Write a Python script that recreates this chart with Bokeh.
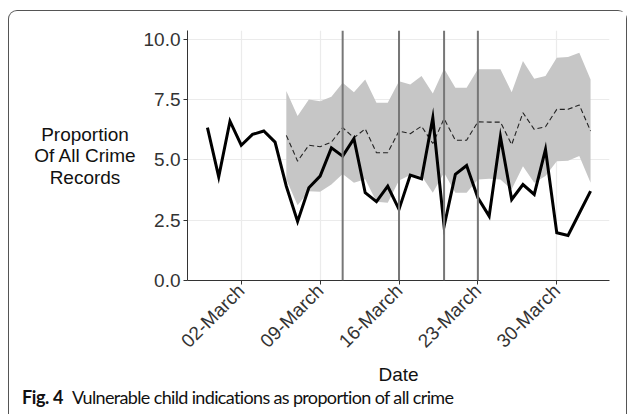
import pandas as pd
from bokeh.plotting import figure
from bokeh.models import (Range1d, FixedTicker, DatetimeTickFormatter, PrintfTickFormatter,
                          Span, ColumnDataSource, Div)
from bokeh.layouts import column, row
from bokeh.embed import file_html
from bokeh.resources import INLINE
import math

# ---------------- data ----------------
start_date = "2020-02-28"
observed = [6.34, 4.30, 6.61, 5.61, 6.06, 6.20, 5.74, 3.91, 2.45, 3.85, 4.33, 5.50,
            5.16, 5.88, 3.64, 3.27, 3.91, 2.95, 4.37, 4.22, 6.75, 2.25, 4.40, 4.77,
            3.43, 2.67, 5.96, 3.36, 3.98, 3.57, 5.44, 1.98, 1.87, 2.79, 3.71]
forecast_start = "2020-03-06"
forecast = [6.02, 4.95, 5.61, 5.55, 5.74, 6.34, 5.92, 6.29, 5.30, 5.30, 6.20, 6.09,
            6.40, 5.68, 6.71, 5.82, 5.82, 6.58, 6.57, 6.57, 5.64, 6.96, 6.27, 6.38,
            7.10, 7.10, 7.28, 6.20]
upper = [7.86, 6.82, 7.51, 7.44, 7.62, 8.20, 7.81, 8.34, 7.37, 7.37, 8.27, 8.13,
         8.48, 7.76, 8.78, 8.00, 8.00, 8.76, 8.76, 8.76, 7.81, 9.10, 8.37, 8.48,
         9.24, 9.27, 9.45, 8.34]
lower = [4.19, 3.12, 3.70, 3.68, 3.98, 4.42, 4.05, 4.20, 3.27, 3.22, 4.15, 4.38,
         4.33, 3.64, 4.47, 3.64, 3.64, 4.19, 4.22, 4.19, 3.78, 4.74, 4.05, 4.33,
         4.95, 4.97, 5.16, 4.05]
event_dates = ["2020-03-11", "2020-03-16", "2020-03-20", "2020-03-23"]
tick_dates = ["2020-03-02", "2020-03-09", "2020-03-16", "2020-03-23", "2020-03-30"]
y_ticks = [0.0, 2.5, 5.0, 7.5, 10.0]
y_title = ["Proportion", "Of All Crime", "Records"]
x_title = "Date"
caption_bold = "Fig. 4"
caption_text = "Vulnerable child indications as proportion of all crime"

# ---------------- build ----------------
obs_x = pd.date_range(start_date, periods=len(observed), freq="D")
fc_x = pd.date_range(forecast_start, periods=len(forecast), freq="D")
obs_src = ColumnDataSource(dict(x=obs_x, y=observed))
fc_src = ColumnDataSource(dict(x=fc_x, y=forecast, lo=lower, hi=upper))

DAY = 86400000.0
def ms(d):
    return pd.Timestamp(d).value / 1e6

x0 = ms(tick_dates[0]) - 4.77 * DAY
x1 = ms(tick_dates[-1]) + 4.68 * DAY

CW = 617          # content width inside the border
YW = 131          # width of the y-title column
W, H = CW - YW, 381
p = figure(width=W, height=H, output_backend="svg", toolbar_location=None,
           x_axis_type="datetime", x_range=Range1d(x0, x1), y_range=Range1d(0, 10.37),
           min_border_left=45, min_border_right=17, min_border_top=19,
           min_border_bottom=H - 19 - 250)
p.outline_line_color = None
p.background_fill_color = "white"
p.border_fill_color = "white"

p.xaxis.ticker = FixedTicker(ticks=[ms(d) for d in tick_dates])
fmt = "%d-%B"
p.xaxis.formatter = DatetimeTickFormatter(days=fmt, months=fmt, years=fmt, hours=fmt,
                                          minutes=fmt, seconds=fmt, milliseconds=fmt,
                                          microseconds=fmt, hourmin=fmt, minsec=fmt)
p.yaxis.ticker = FixedTicker(ticks=y_ticks)
p.yaxis.formatter = PrintfTickFormatter(format="%.1f")
p.xaxis.major_label_orientation = math.pi / 4

for ax in (p.xaxis, p.yaxis):
    ax.axis_line_color = "#333333"
    ax.axis_line_width = 1
    ax.major_tick_line_color = "#333333"
    ax.major_tick_out = 4
    ax.major_tick_in = 0
    ax.minor_tick_line_color = None
    ax.major_label_text_font = "Liberation Sans"
    ax.major_label_text_font_size = "19px"
    ax.major_label_text_color = "#333333"
    ax.major_label_standoff = 3
    ax.axis_label_text_font = "Liberation Sans"
    ax.axis_label_text_font_size = "19px"
    ax.axis_label_text_font_style = "normal"
    ax.axis_label_text_color = "#111111"

p.xaxis.axis_label = x_title
p.xaxis.axis_label_standoff = 2

p.xgrid.grid_line_color = "#ebebeb"
p.ygrid.grid_line_color = "#ebebeb"
p.xgrid.grid_line_width = 1.2
p.ygrid.grid_line_width = 1.2

p.varea(x="x", y1="lo", y2="hi", source=fc_src, fill_color="#c6c6c6")
p.line(x="x", y="y", source=fc_src, line_color="#222222", line_width=1.1, line_dash="5 3")
p.line(x="x", y="y", source=obs_src, line_color="black", line_width=3, line_join="miter")

for d in event_dates:
    p.add_layout(Span(location=ms(d), dimension="height", line_color="#777777", line_width=2))

ytitle_html = (
    '<div style="padding-top:113px;padding-left:21px;width:110px;'
    'font-family:\'Liberation Sans\';font-size:19px;line-height:21.3px;color:#111111;'
    'white-space:nowrap;">'
    + "".join(f'<div style="width:110px;text-align:center;">{t}</div>' for t in y_title)
    + "</div>")
ydiv = Div(text=ytitle_html, width=YW, height=H, margin=0)

cap_html = (
    '<div style="position:relative;top:-6px;padding-left:13px;font-family:Lato;font-size:18px;'
    'line-height:22px;color:#111111;white-space:nowrap;">'
    f'<b style="letter-spacing:-0.4px;margin-right:9px;">{caption_bold}</b>'
    f'<span style="letter-spacing:-0.65px;">{caption_text}</span></div>')
cap = Div(text=cap_html, width=CW, height=22, margin=0)

lay = column(row(ydiv, p, spacing=0), cap, spacing=0, margin=(10, 0, 0, 8),
             styles={"border": "1.3px solid #555555", "border-bottom": "none",
                     "border-radius": "9px 9px 0 0", "background": "white"})

open("out.html", "w").write(file_html(lay, INLINE))
